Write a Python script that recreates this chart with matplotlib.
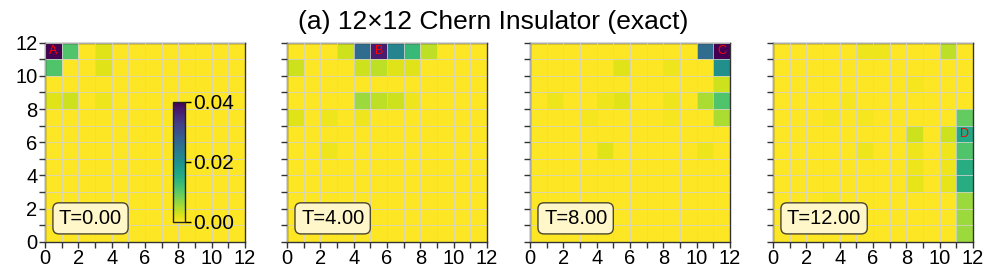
import numpy as np
import matplotlib
matplotlib.use("Agg")
import matplotlib.pyplot as plt

plt.rcParams["font.family"] = ["Liberation Sans", "DejaVu Sans"]

# density grids, in units of 1e-3; rows listed from top (y=11) down to y=0
grid_t0 = [
    [41, 11, 0, 2, 0, 0, 0, 0, 0, 0, 0, 0],
    [11, 0, 0, 2, 0, 0, 0, 0, 0, 0, 0, 0],
    [0, 0, 0, 0, 0, 0, 0, 0, 0, 0, 0, 0],
    [2, 3, 0, 1, 0, 0, 0, 0, 0, 0, 0, 0],
    [0, 0, 0, 0, 0, 0, 0, 0, 0, 0, 0, 0],
    [0, 0, 0, 0, 0, 0, 0, 0, 0, 0, 0, 0],
    [0, 0, 0, 0, 0, 0, 0, 0, 0, 0, 0, 0],
    [0, 0, 0, 0, 0, 0, 0, 0, 0, 0, 0, 0],
    [0, 0, 0, 0, 0, 0, 0, 0, 0, 0, 0, 0],
    [0, 0, 0, 0, 0, 0, 0, 0, 0, 0, 0, 0],
    [0, 0, 0, 0, 0, 0, 0, 0, 0, 0, 0, 0],
    [0, 0, 0, 0, 0, 0, 0, 0, 0, 0, 0, 0],
]
grid_t4 = [
    [0, 0, 0, 3, 26, 37, 22, 13, 4, 0, 0, 0],
    [3, 0, 0, 0, 3, 4, 2, 2, 0, 0, 0, 0],
    [0, 0, 0, 0, 0, 0, 0, 0, 0, 0, 0, 0],
    [0, 0, 0, 0, 6, 4, 3, 1, 0, 0, 0, 0],
    [2, 0, 1, 0, 1, 0, 0, 0, 0, 0, 0, 0],
    [0, 0, 0, 0, 0, 0, 0, 0, 0, 0, 0, 0],
    [0, 0, 1, 0, 0, 0, 0, 0, 0, 0, 0, 0],
    [0, 0, 0, 0, 0, 0, 0, 0, 0, 0, 0, 0],
    [0, 0, 0, 0, 0, 0, 0, 0, 0, 0, 0, 0],
    [0, 0, 0, 0, 0, 0, 0, 0, 0, 0, 0, 0],
    [0, 0, 0, 0, 0, 0, 0, 0, 0, 0, 0, 0],
    [0, 0, 0, 0, 0, 0, 0, 0, 0, 0, 0, 0],
]
grid_t8 = [
    [0, 0, 0, 0, 0, 0, 0, 0, 0, 0, 26, 41],
    [0, 0, 0, 0, 0, 2, 0, 0, 1, 0, 0, 20],
    [0, 0, 0, 0, 0, 0, 0, 0, 0, 0, 0, 3],
    [0, 1, 0, 0, 1, 2, 0, 0, 1, 0, 5, 11],
    [0, 0, 0, 0.5, 0, 0, 0, 0, 0.5, 0, 0, 5],
    [0, 0, 0, 0, 0, 0, 0, 0, 0, 0, 0, 0],
    [0, 0, 0, 0, 2, 0, 0, 0, 0, 0, 1, 0],
    [0, 0, 0, 0, 0, 0, 0, 0, 0, 0, 0, 0],
    [0, 0, 0, 0, 0, 0, 0, 0, 0, 0, 0, 0],
    [0, 0, 0, 0, 0, 0, 0, 0, 0, 0, 0, 0],
    [0, 0, 0, 0, 0, 0, 0, 0, 0, 0, 0, 0],
    [0, 0, 0, 0, 0, 0, 0, 0, 0, 0, 0, 0],
]
grid_t12 = [
    [0, 0, 0, 0, 0, 1, 1, 0, 0, 0, 4, 0],
    [0, 0, 0, 0, 0, 0, 0, 0, 0, 0, 0, 0],
    [0, 0, 0, 0, 0, 0, 0, 0, 0.5, 0, 0, 0],
    [0, 0, 0, 0, 0.5, 0, 0, 0, 0, 0, 0, 0],
    [0, 0, 0, 0.5, 0, 0.5, 0, 0, 0, 0, 0, 9.6],
    [0, 0, 0, 0, 0, 0, 0, 0, 3, 0, 3, 16],
    [0, 0, 0, 0, 0, 1, 0, 0, 1, 0, 1, 11],
    [0, 0, 0, 0, 0, 0, 0, 0, 1, 0, 1, 15],
    [0, 0, 0, 0, 0, 0, 0, 0, 1.5, 0, 1.5, 15],
    [0, 0, 0, 0.5, 0, 0, 0, 0, 0, 0, 0, 6],
    [0, 0, 0, 0, 0, 0, 0, 0, 0, 0, 0, 6],
    [0, 0, 0, 0, 0, 0, 0, 0, 0, 0, 0, 6],
]

times = [0.0, 4.0, 8.0, 12.0]
grids = [grid_t0, grid_t4, grid_t8, grid_t12]
# marked site per panel: (letter, column, row)
marks = [("A", 0, 11), ("B", 5, 11), ("C", 11, 11), ("D", 11, 6)]

L = 12
vmin, vmax = 0.0, 0.04

fig = plt.figure(figsize=(9.97, 2.72), dpi=100)
lefts = [0.0451, 0.2879, 0.5316, 0.7753]
edges = np.arange(L + 1)

for i, (t, g, mk) in enumerate(zip(times, grids, marks)):
    ax = fig.add_axes([lefts[i], 0.111, 0.2006, 0.732])
    dens = np.array(g, dtype=float)[::-1] * 1e-3
    mesh = ax.pcolormesh(edges, edges, dens, cmap="viridis_r",
                         vmin=vmin, vmax=vmax, shading="flat", zorder=0)
    ax.set_xlim(0, L)
    ax.set_ylim(0, L)
    ax.set_xticks(np.arange(0, L + 1, 2))
    ax.set_yticks(np.arange(0, L + 1, 2))
    ax.set_xticks(np.arange(0, L + 1, 1), minor=True)
    ax.set_yticks(np.arange(0, L + 1, 1), minor=True)
    ax.grid(which="both", color="#d2d2d2", linewidth=0.55, zorder=1)
    ax.set_axisbelow(False)
    ax.tick_params(which="both", direction="out", length=4, width=1,
                   color="#333333", labelsize=14.5, pad=1.5)
    if i > 0:
        ax.tick_params(labelleft=False)
    for s in ax.spines.values():
        s.set_color("#333333")
        s.set_linewidth(1.0)

    letter, cx, cy = mk
    ax.text(cx + 0.5, cy + 0.5, letter, color="red", fontsize=9,
            ha="center", va="center", zorder=3)

    ax.text(0.07, 0.07, f"T={t:.2f}", transform=ax.transAxes, fontsize=14.5,
            ha="left", va="bottom", zorder=4,
            bbox=dict(boxstyle="round,pad=0.3", facecolor="#fff7c9",
                      edgecolor="#4a4630", linewidth=1.0))

    if i == 0:
        cax = ax.inset_axes([0.639, 0.10, 0.0625, 0.603])
        cb = fig.colorbar(mesh, cax=cax, ticks=[0.0, 0.02, 0.04])
        cb.ax.set_yticklabels(["0.00", "0.02", "0.04"])
        cb.ax.tick_params(labelsize=15, length=4, width=1, pad=2)
        cb.outline.set_linewidth(1.0)
        cb.outline.set_edgecolor("#222222")

fig.suptitle("(a) 12×12 Chern Insulator (exact)", fontsize=19,
             x=0.495, y=0.92, va="center")

fig.savefig("out.png", dpi=100)
